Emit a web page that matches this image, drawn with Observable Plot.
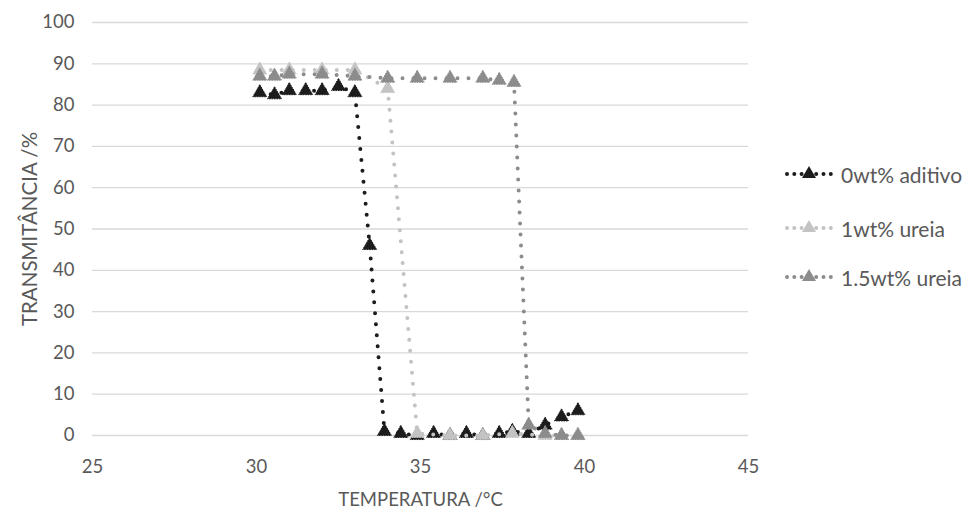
<!DOCTYPE html>
<html>
<head>
<meta charset="utf-8">
<script src="https://cdn.jsdelivr.net/npm/d3@7"></script>
<script src="https://cdn.jsdelivr.net/npm/@observablehq/plot@0.6"></script>
<style>
  html, body { margin: 0; padding: 0; background: #fff; }
  #wrap { position: relative; width: 968px; height: 516px; font-family: Lato, "Open Sans", sans-serif; }
  #legend { position: absolute; left: 783px; top: 0; }
  .item { position: absolute; left: 0; display: flex; align-items: center; white-space: nowrap; font-size: 21px; color: #595959; }
  .item svg { margin-right: 6px; }
</style>
</head>
<body>
<div id="wrap"></div>
<script>
// Temperature (°C) and transmittance (%) per series
const seriesNames = ["0wt% aditivo", "1wt% ureia", "1.5wt% ureia"];
const seriesColors = ["#1c1c1c", "#c3c3c3", "#8c8c8c"];

const temp0 = [30.1, 30.55, 31.0, 31.5, 32.0, 32.5, 33.0, 33.45, 33.9, 34.4, 34.9, 35.4, 35.9, 36.4, 36.9, 37.4, 37.8, 38.3, 38.8, 39.3, 39.8];
const trans0 = [83, 82.5, 83.5, 83.5, 83.5, 84.5, 83, 46, 1, 0.5, 0, 0.5, 0, 0.5, 0, 0.5, 1, 0.5, 2.5, 4.5, 6];

const temp1 = [30.1, 31.0, 32.0, 33.0, 34.0, 34.9, 35.9, 36.9, 37.8, 38.8, 39.3, 39.8];
const trans1 = [88.5, 88.5, 88.5, 88.5, 84, 0.5, 0, 0, 0.5, 0, 0, 0];

const temp2 = [30.1, 30.55, 31.0, 32.0, 33.0, 34.0, 34.9, 35.9, 36.9, 37.4, 37.85, 38.3, 38.8, 39.3, 39.8];
const trans2 = [87, 87, 87.5, 87.5, 87, 86.5, 86.5, 86.5, 86.5, 86, 85.5, 2.5, 0.5, 0, 0];

const xTicks = [25, 30, 35, 40, 45];
const yTicks = [0, 10, 20, 30, 40, 50, 60, 70, 80, 90, 100];
const xTitle = "TEMPERATURA /°C";
const yTitle = "TRANSMITÂNCIA /%";

const series = [
  {name: seriesNames[0], color: seriesColors[0], data: temp0.map((t, i) => ({t, v: trans0[i]}))},
  {name: seriesNames[1], color: seriesColors[1], data: temp1.map((t, i) => ({t, v: trans1[i]}))},
  {name: seriesNames[2], color: seriesColors[2], data: temp2.map((t, i) => ({t, v: trans2[i]}))}
];

const R = 5.2;
const seriesMarks = series.flatMap(s => [
  Plot.line(s.data, {x: "t", y: "v", stroke: s.color, strokeWidth: 4, strokeDasharray: "0 11", strokeLinecap: "round"}),
  Plot.dot(s.data, {x: "t", y: "v", symbol: "triangle", r: R, fill: s.color, stroke: s.color, strokeWidth: 1, strokeDasharray: "1.5 1"})
]);

const chart = Plot.plot({
  width: 968,
  height: 516,
  marginLeft: 92,
  marginRight: 220,
  marginTop: 22,
  marginBottom: 81,
  style: {fontFamily: "Lato, 'Open Sans', sans-serif", fontSize: "18.5px", color: "#595959", background: "#fff"},
  x: {domain: [25, 45]},
  y: {domain: [0, 100]},
  marks: [
    Plot.gridY(yTicks, {stroke: "#d9d9d9", strokeOpacity: 1, strokeWidth: 1.3}),
    Plot.axisX(xTicks, {tickSize: 0, tickPadding: 24, fill: "#595959", label: xTitle, labelAnchor: "center", labelArrow: "none", labelOffset: 70}),
    Plot.axisY(yTicks, {tickSize: 0, tickPadding: 18, fill: "#595959", label: null}),
    Plot.text([yTitle], {frameAnchor: "left", textAnchor: "middle", rotate: -90, dx: -62, fontSize: 20.5, fill: "#595959"}),
    ...seriesMarks
  ]
});

const wrap = document.getElementById("wrap");
wrap.appendChild(chart);

// Legend
const legend = document.createElement("div");
legend.id = "legend";
const legendTops = [174, 228, 277];
series.forEach((s, i) => {
  const item = document.createElement("div");
  item.className = "item";
  item.style.top = (legendTops[i] - 13) + "px";
  const ns = "http://www.w3.org/2000/svg";
  const svg = document.createElementNS(ns, "svg");
  svg.setAttribute("width", 52);
  svg.setAttribute("height", 26);
  const ln = document.createElementNS(ns, "line");
  ln.setAttribute("x1", 4); ln.setAttribute("x2", 48);
  ln.setAttribute("y1", 13); ln.setAttribute("y2", 13);
  ln.setAttribute("stroke", s.color);
  ln.setAttribute("stroke-width", 4);
  ln.setAttribute("stroke-dasharray", "0 7.3");
  ln.setAttribute("stroke-linecap", "round");
  svg.appendChild(ln);
  const tri = document.createElementNS(ns, "path");
  tri.setAttribute("d", d3.symbol(d3.symbolTriangle, Math.PI * R * R)());
  tri.setAttribute("transform", "translate(26,13)");
  tri.setAttribute("fill", s.color);
  svg.appendChild(tri);
  item.appendChild(svg);
  const span = document.createElement("span");
  span.textContent = s.name;
  item.appendChild(span);
  legend.appendChild(item);
});
wrap.appendChild(legend);
</script>
</body>
</html>
